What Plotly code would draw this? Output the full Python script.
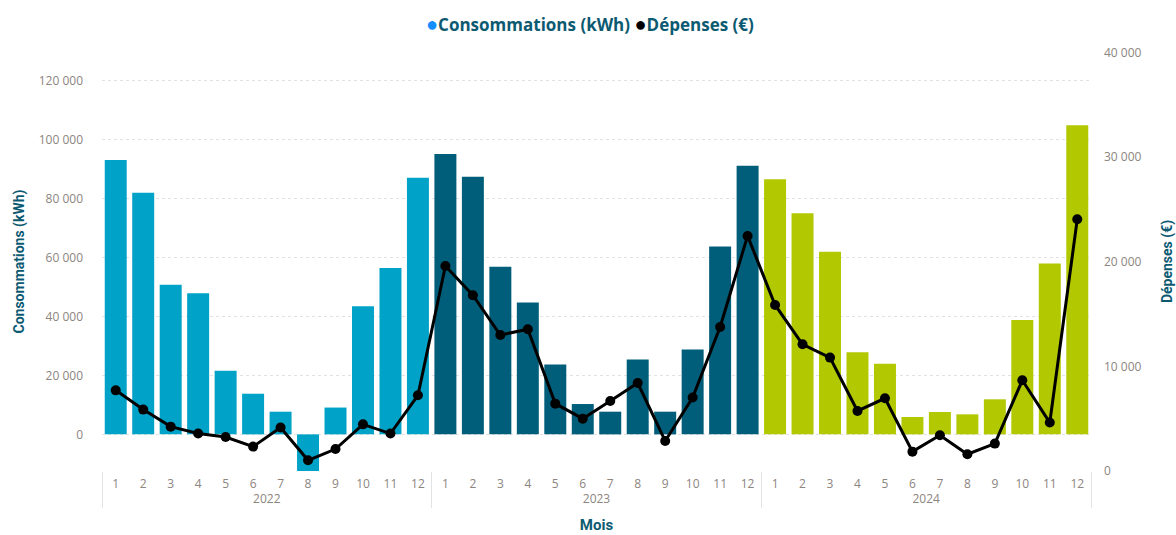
import plotly.graph_objects as go

years = ["2022", "2023", "2024"]
months = ["1", "2", "3", "4", "5", "6", "7", "8", "9", "10", "11", "12"]

conso_2022 = [93200, 82000, 50800, 47900, 21600, 13800, 7700, -12700, 9100, 43500, 56500, 87100]
conso_2023 = [95200, 87500, 56900, 44800, 23700, 10300, 7700, 25400, 7700, 28800, 63800, 91200]
conso_2024 = [86600, 75100, 62000, 27900, 24000, 5900, 7600, 6800, 11900, 38800, 58000, 105000]

dep_2022 = [7710, 5870, 4240, 3580, 3250, 2330, 4150, 1020, 2100, 4460, 3580, 7240]
dep_2023 = [19600, 16800, 13000, 13550, 6440, 5000, 6690, 8410, 2870, 7020, 13770, 22470]
dep_2024 = [15870, 12110, 10840, 5740, 6950, 1850, 3410, 1600, 2620, 8670, 4630, 24060]

year_colors = {"2022": "#00A3C7", "2023": "#005E7A", "2024": "#B2C800"}
title_color = "#0C5A72"
tick_color = "#8C8580"

conso = conso_2022 + conso_2023 + conso_2024
dep = dep_2022 + dep_2023 + dep_2024
x_year = [y for y in years for _ in months]
x_month = [m for _ in years for m in months]
bar_colors = [year_colors[y] for y in x_year]

fig = go.Figure()
fig.add_trace(go.Bar(
    x=[x_year, x_month], y=conso, name="Consommations (kWh)",
    marker=dict(color=bar_colors, line=dict(width=0)),
    showlegend=False, yaxis="y",
))
fig.add_trace(go.Scatter(
    x=[x_year, x_month], y=dep, name="Dépenses (€)", mode="lines+markers",
    line=dict(color="black", width=3), marker=dict(color="black", size=10),
    showlegend=False, yaxis="y2",
))

n_cat = len(x_month)

fig.update_layout(
    width=1176, height=535,
    margin=dict(l=102, r=85, t=52, b=64, autoexpand=False),
    paper_bgcolor="white", plot_bgcolor="white",
    separators=", ",
    bargap=0.2,
    font=dict(family="Open Sans", size=11, color=tick_color),
    xaxis=dict(
        type="multicategory", showgrid=False, zeroline=False, showline=False,
        automargin=False, range=[-0.5, n_cat - 0.5],
        ticks="", tickfont=dict(size=12, color=tick_color), ticklabelstandoff=4,
        showdividers=True, dividercolor="#e3e3e3", dividerwidth=1,
        title=dict(text="<b>Mois</b>", font=dict(family="Roboto", size=15, color=title_color), standoff=13),
    ),
    yaxis=dict(
        range=[-12440, 129830], tickvals=[0, 20000, 40000, 60000, 80000, 100000, 120000],
        tickformat=",d", showgrid=True, gridcolor="#e2e2e2", griddash="dot", gridwidth=1,
        zeroline=False, showline=False, ticks="", ticklabelstandoff=18, automargin=False,
        tickfont=dict(size=12, color=tick_color),
        title=dict(text="<b>Consommations (kWh)</b>", font=dict(family="Roboto", size=14, color=title_color), standoff=10),
    ),
    yaxis2=dict(
        overlaying="y", side="right", range=[0, 40050], automargin=False,
        tickvals=[0, 10000, 20000, 30000, 40000], tickformat=",d",
        showgrid=False, zeroline=False, showline=False, ticks="", ticklabelstandoff=12,
        tickfont=dict(size=12, color=tick_color),
        title=dict(text="<b>Dépenses (€)</b>", font=dict(family="Roboto", size=14, color=title_color), standoff=23),
    ),
    annotations=[dict(
        xref="paper", yref="paper", x=0.4934, y=1.067, xanchor="center", yanchor="middle",
        showarrow=False,
        text="<span style='color:#118DFF;font-size:20px'>●</span><b>Consommations (kWh)</b> <span style='color:#000000;font-size:20px'>●</span><b>Dépenses (€)</b>",
        font=dict(family="Open Sans", size=17, color=title_color),
    )],
)

fig.write_html(
    "out.html",
    config={"displayModeBar": False},
    post_script="document.body.style.margin='0';document.body.style.overflow='hidden';",
)
